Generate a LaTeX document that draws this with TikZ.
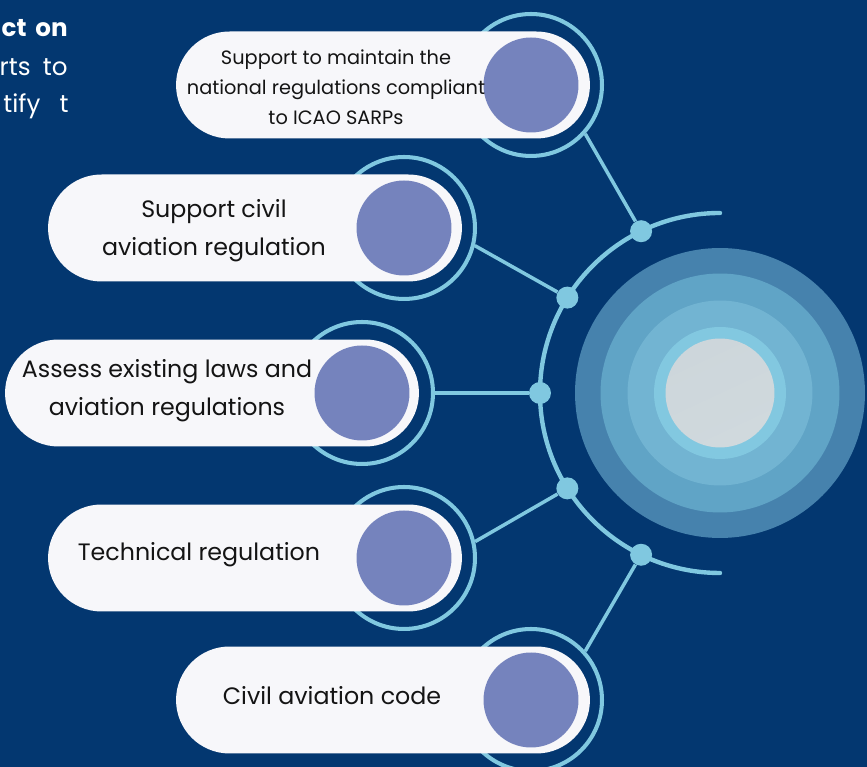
\documentclass[tikz,border=0pt]{standalone}
\usepackage{fontspec}
\setmainfont{Poppins}
\usetikzlibrary{calc}

\definecolor{navy}{HTML}{033770}
\definecolor{skyline}{HTML}{80C8E0}
\definecolor{pillwhite}{HTML}{F7F7FA}
\definecolor{lilac}{HTML}{7583BD}
\definecolor{haloA}{HTML}{4682AD}
\definecolor{haloB}{HTML}{60A4C6}
\definecolor{haloC}{HTML}{72B4D2}
\definecolor{haloD}{HTML}{82C8E0}
\definecolor{silverA}{HTML}{CDD6DB}
\definecolor{silverB}{HTML}{E6EDF0}
\definecolor{silverC}{HTML}{D0D9DD}

\tikzstyle{pill} = [rectangle, rounded corners=1.07cm, minimum width=8.28cm, minimum height=2.14cm, fill=pillwhite, inner sep=0pt]
\tikzstyle{ring} = [circle, minimum size=2.84cm, inner sep=0pt, draw=skyline, line width=2.3pt]
\tikzstyle{badge} = [circle, minimum size=1.9cm, inner sep=0pt, fill=lilac]
\tikzstyle{dot} = [circle, minimum size=0.44cm, inner sep=0pt, fill=skyline]
\tikzstyle{disc} = [circle, inner sep=0pt]
\tikzstyle{link} = [draw=skyline, line width=2pt]
\tikzstyle{pilltext} = [align=center, inner sep=0pt, text=black!92, font=\fontsize{13.5}{21.5}\selectfont]
\tikzstyle{paratext} = [anchor=east, inner sep=0pt, text=white, font=\fontsize{14}{21.5}\selectfont]

\begin{document}
\begin{tikzpicture}[x=0.02cm, y=0.02cm]
\fill[navy] (0,0) rectangle (867,767);
\useasboundingbox (0,0) rectangle (867,767);

% paragraph cut off at the left
\node (para1) [paratext, font=\fontsize{14}{21.5}\selectfont\bfseries] at (68,739) {ct\hspace{5pt}on};
\node (para2) [paratext] at (68,700) {rts\hspace{7pt}to};
\node (para3) [paratext] at (69,661) {tify\hspace{11pt}t};

% target in the middle
\coordinate (hub) at (720,374);
\node (disc1) [disc, fill=haloA, minimum size=5.8cm] at (hub) {};
\node (disc2) [disc, fill=haloB, minimum size=4.78cm] at (hub) {};
\node (disc3) [disc, fill=haloC, minimum size=3.7cm] at (hub) {};
\node (disc4) [disc, fill=haloD, minimum size=2.64cm] at (hub) {};
\node (core) [disc, minimum size=2.18cm, top color=silverA, middle color=silverB, bottom color=silverC, shading angle=25] at (hub) {};

\draw [skyline, line width=2.5pt, line cap=round] ($(hub)+(0,180)$) arc (90:270:180);

\node (d1) [dot] at ($(hub)+(116:180)$) {};
\node (d2) [dot] at ($(hub)+(148:180)$) {};
\node (d3) [dot] at ($(hub)+(180:180)$) {};
\node (d4) [dot] at ($(hub)+(212:180)$) {};
\node (d5) [dot] at ($(hub)+(244:180)$) {};

\node (ring1) [ring] at (531,682) {};
\node (ring2) [ring] at (404,539) {};
\node (ring3) [ring] at (362,374) {};
\node (ring4) [ring] at (404,209) {};
\node (ring5) [ring] at (531,67) {};

\draw [link] (d1) -- (ring1.-42);
\draw [link] (d2) -- (ring2.-14);
\draw [link] (d3) -- (ring3.0);
\draw [link] (d4) -- (ring4.13);
\draw [link] (d5) -- (ring5.42);

\node (pill1) [pill] at (383,682) {};
\node (pill2) [pill] at (255,539) {};
\node (pill3) [pill] at (212,374) {};
\node (pill4) [pill] at (255,209) {};
\node (pill5) [pill] at (383,67) {};

\node (badge1) [badge] at (ring1) {};
\node (badge2) [badge] at (ring2) {};
\node (badge3) [badge] at (ring3) {};
\node (badge4) [badge] at (ring4) {};
\node (badge5) [badge] at (ring5) {};

\node (text1) [pilltext, font=\fontsize{11}{17}\selectfont] at (336,680) {Support to maintain the\\national regulations compliant\\to ICAO SARPs};
\node (text2) [pilltext] at (214,536) {Support civil\\aviation regulation};
\node (text3) [pilltext] at (167,376) {Assess existing laws and\\aviation regulations};
\node (text4) [pilltext] at (199,212) {Technical regulation};
\node (text5) [pilltext] at (332,71) {Civil aviation code};
\end{tikzpicture}
\end{document}
